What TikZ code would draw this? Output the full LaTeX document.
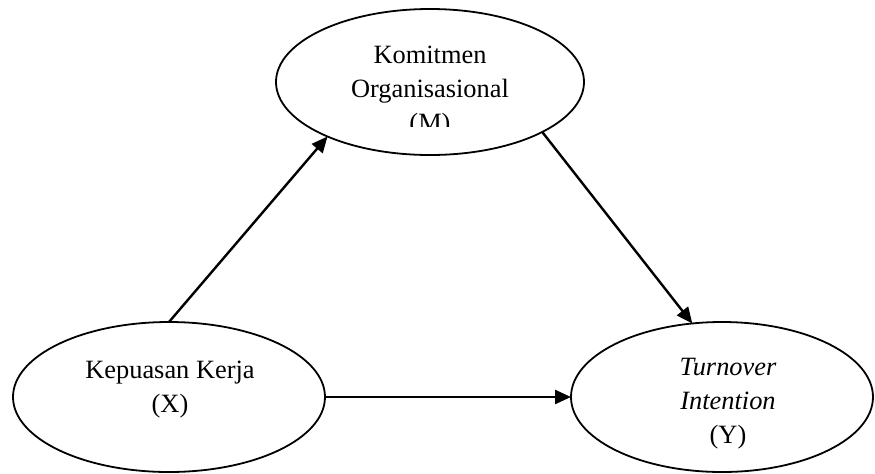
\documentclass[tikz,border=0pt]{standalone}
\usepackage{fontspec}
\setmainfont{Liberation Serif}
\usetikzlibrary{arrows.meta,shapes.geometric}
\tikzset{var/.style={draw, ellipse, line width=0.9pt, inner sep=0pt, outer sep=0pt},
  txt/.style={align=center, inner sep=0pt, font=\fontsize{13.2}{17}\selectfont},
  link/.style={->, line width=1.2pt}}
\begin{document}
\begin{tikzpicture}[x=0.5pt, y=-0.5pt, line join=round, >={Triangle[length=8pt,width=7pt]}]
\useasboundingbox (0,0) rectangle (875,473);
\node[var, minimum width=154pt, minimum height=73pt] (M) at (430,82) {};
\node[var, minimum width=156pt, minimum height=75pt] (X) at (169,397) {};
\node[var, minimum width=151pt, minimum height=75pt] (Y) at (722,397) {};
\begin{scope}
\clip (270,0) rectangle (590,126);
\node[txt, anchor=base] (Mtext) at (430,131) {Komitmen\\Organisasional\\(M)};
\end{scope}
\node[txt, anchor=base] (Xtext) at (170,412) {Kepuasan Kerja\\(X)};
\node[txt, anchor=base] (Ytext) at (728,443) {\textit{Turnover}\\\textit{Intention}\\(Y)};
\draw[link] (X.north) -- (M.208);
\draw[link] (M.-24) -- (Y.112);
\draw[link] (X.east) -- (Y.west);
\end{tikzpicture}
\end{document}
